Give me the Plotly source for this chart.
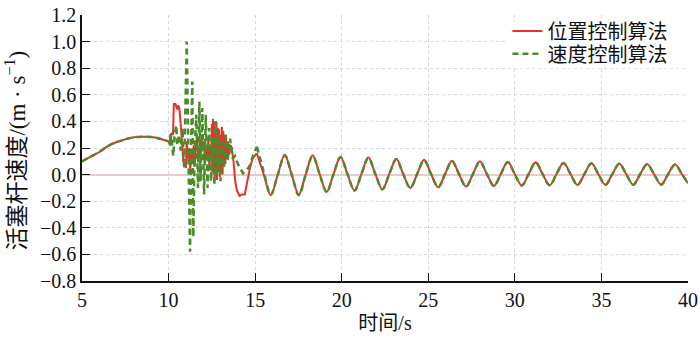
import plotly.graph_objects as go

# ---- data ----
start_t = [5.0, 5.5, 6.0, 6.5, 7.0, 7.5, 8.0, 8.5, 9.0, 9.5, 10.0]
start_v = [0.10, 0.135, 0.17, 0.215, 0.245, 0.265, 0.28, 0.285, 0.283, 0.27, 0.25]

red_chaos_t = [10.0, 10.08, 10.1, 10.2, 10.26, 10.3, 10.4, 10.45, 10.5, 10.55, 10.62, 10.7, 10.75, 10.8,
               10.85, 10.95, 11.0, 11.05, 11.1, 11.2, 11.25, 11.3, 11.4, 11.45, 11.5, 11.55, 11.65, 11.7,
               11.8, 11.85, 11.9, 12.0, 12.05, 12.1, 12.2, 12.25, 12.3, 12.35, 12.4, 12.45, 12.5, 12.53,
               12.56, 12.6, 12.63, 12.67, 12.7, 12.73, 12.77, 12.8, 12.84, 12.88, 12.92, 12.96, 13.0,
               13.04, 13.08, 13.12, 13.16, 13.2, 13.24, 13.28, 13.32, 13.36, 13.42, 13.5, 13.6, 13.65,
               13.75, 13.85, 13.95, 14.1, 14.25, 14.4, 14.55, 14.7, 14.85, 15.10]
red_chaos_v = [0.25, 0.24, 0.30, 0.31, 0.30, 0.53, 0.53, 0.50, 0.49, 0.52, 0.50, 0.38, 0.30, 0.22,
               0.10, 0.08, 0.05, 0.25, 0.12, 0.20, 0.02, 0.18, 0.10, 0.22, 0.06, 0.18, 0.28, 0.10,
               0.20, 0.12, 0.30, 0.18, 0.25, 0.08, 0.22, 0.14, 0.28, 0.06, 0.20, 0.10, 0.38, 0.02,
               0.42, 0.00, 0.40, -0.03, 0.36, 0.05, 0.40, -0.04, 0.35, 0.02, 0.34, -0.02, 0.30,
               0.05, 0.36, 0.00, 0.33, 0.06, 0.30, 0.08, 0.28, 0.12, 0.25, 0.15, 0.22, 0.20,
               0.10, -0.05, -0.12, -0.16, -0.15, -0.15, -0.05, 0.05, 0.12, 0.16]

green_chaos_t = [10.0, 10.1, 10.15, 10.2, 10.27, 10.35, 10.45, 10.5, 10.6, 10.7, 10.8, 10.9, 11.0, 11.05,
                 11.15, 11.24, 11.3, 11.37, 11.43, 11.5, 11.6, 11.7, 11.78, 11.85, 11.95, 12.05, 12.15,
                 12.25, 12.35, 12.45, 12.55, 12.65, 12.72, 12.8, 12.9, 13.0, 13.1, 13.2, 13.3, 13.4,
                 13.55, 13.7, 13.84, 14.0, 14.13, 14.3, 14.5, 14.7, 14.9, 15.10]
green_chaos_v = [0.25, 0.22, 0.30, 0.25, 0.14, 0.30, 0.37, 0.22, 0.30, 0.18, 0.35, 0.05, 0.60, 1.00,
                 0.10, -0.58, 0.20, 0.70, -0.47, 0.15, 0.45, -0.10, 0.55, -0.05, 0.50, -0.15, 0.45,
                 -0.10, 0.35, -0.05, 0.28, -0.08, 0.40, 0.00, 0.30, -0.05, 0.25, 0.05, 0.30, 0.10,
                 0.27, 0.12, 0.14, 0.08, 0.05, 0.01, 0.03, 0.07, 0.15, 0.21]

steady_t = [15.10, 15.50, 15.90, 16.31, 16.71, 17.11, 17.52, 17.92, 18.32, 18.72, 19.13, 19.53, 19.93,
            20.33, 20.74, 21.14, 21.54, 21.94, 22.35, 22.75, 23.15, 23.55, 23.96, 24.36, 24.76, 25.16,
            25.57, 25.97, 26.37, 26.77, 27.18, 27.58, 27.98, 28.38, 28.79, 29.19, 29.59, 29.99, 30.40,
            30.80, 31.20, 31.60, 32.01, 32.41, 32.81, 33.21, 33.62, 34.02, 34.42, 34.82, 35.23, 35.63,
            36.03, 36.43, 36.84, 37.24, 37.64, 38.04, 38.45, 38.85, 39.25, 39.65, 40.00]
red_steady_v = [0.16, 0.00, -0.155, 0.00, 0.15, 0.00, -0.15, 0.00, 0.145, 0.005, -0.13, 0.005, 0.135,
                0.005, -0.12, 0.005, 0.13, 0.005, -0.11, 0.005, 0.12, 0.005, -0.10, 0.005, 0.112, 0.005,
                -0.095, 0.005, 0.105, 0.005, -0.09, 0.005, 0.10, 0.005, -0.085, 0.005, 0.097, 0.005, -0.082,
                0.005, 0.092, 0.005, -0.08, 0.005, 0.089, 0.005, -0.078, 0.005, 0.086, 0.005, -0.077, 0.004,
                0.083, 0.004, -0.076, 0.004, 0.08, 0.003, -0.075, 0.003, 0.077, 0.003, -0.065]
green_steady_v = [0.21, 0.02, -0.15, 0.00, 0.145, 0.00, -0.155, 0.00, 0.14, 0.005, -0.13, 0.005, 0.13,
                  0.005, -0.12, 0.005, 0.125, 0.005, -0.11, 0.005, 0.115, 0.005, -0.10, 0.005, 0.108, 0.005,
                  -0.095, 0.005, 0.10, 0.005, -0.09, 0.005, 0.097, 0.005, -0.085, 0.005, 0.093, 0.005, -0.082,
                  0.005, 0.09, 0.005, -0.08, 0.005, 0.086, 0.005, -0.078, 0.005, 0.083, 0.005, -0.077, 0.004,
                  0.08, 0.004, -0.076, 0.004, 0.077, 0.003, -0.075, 0.003, 0.074, 0.003, -0.065]

names = ["位置控制算法", "速度控制算法"]
x_ticks = [5, 10, 15, 20, 25, 30, 35, 40]
y_ticks = [-0.8, -0.6, -0.4, -0.2, 0.0, 0.2, 0.4, 0.6, 0.8, 1.0, 1.2]
y_ticktext = ["−0.8", "−0.6", "−0.4", "−0.2", "0.0", "0.2", "0.4", "0.6", "0.8", "1.0", "1.2"]
x_title = "时间/s"
y_title = "活塞杆速度/(m · s<sup>−1</sup>)"

RED = "#e8312f"
GREEN = "#4b8c2a"
FONT = "Liberation Serif, Noto Sans CJK SC, serif"

fig = go.Figure()
red_smooth_t = start_t + [None] + steady_t
red_smooth_v = start_v + [None] + red_steady_v
green_smooth_t = start_t + [None] + steady_t
green_smooth_v = start_v + [None] + green_steady_v

fig.add_trace(go.Scatter(x=red_smooth_t, y=red_smooth_v, mode="lines", name=names[0],
                         line=dict(color=RED, width=2, shape="spline"), legendgroup="r",
                         connectgaps=False, legend="legend"))
fig.add_trace(go.Scatter(x=red_chaos_t, y=red_chaos_v, mode="lines", name=names[0],
                         line=dict(color=RED, width=2), legendgroup="r", showlegend=False,
                         legend="legend"))
fig.add_trace(go.Scatter(x=green_smooth_t, y=green_smooth_v, mode="lines", name=names[1],
                         line=dict(color=GREEN, width=2.5, shape="spline", dash="6px,4px"),
                         legendgroup="g", connectgaps=False, legend="legend2"))
fig.add_trace(go.Scatter(x=green_chaos_t, y=green_chaos_v, mode="lines", name=names[1],
                         line=dict(color=GREEN, width=2.5, dash="6px,4px"), legendgroup="g",
                         showlegend=False, legend="legend2"))

legend_common = dict(xanchor="left", yanchor="top", bgcolor="rgba(0,0,0,0)",
                     font=dict(size=20, family=FONT), itemwidth=30, borderwidth=0)

fig.update_layout(
    width=700, height=343,
    margin=dict(l=82, r=12, t=12, b=62),
    paper_bgcolor="white", plot_bgcolor="white",
    font=dict(family=FONT, size=20, color="#111"),
    legend=dict(x=0.702, y=1.013, **legend_common),
    legend2=dict(x=0.702, y=0.9275, **legend_common),
    xaxis=dict(range=[5, 40], tickvals=x_ticks, ticks="inside", ticklen=8, tickcolor="#111",
               showline=True, linecolor="#111", linewidth=1.5, mirror=False, automargin=False,
               showgrid=True, gridcolor="#d6d6d6", griddash="dot", gridwidth=1,
               zeroline=False, title=dict(text=x_title, font=dict(size=20), standoff=6)),
    yaxis=dict(range=[-0.8, 1.2], tickvals=y_ticks, ticktext=y_ticktext, ticks="inside", ticklen=8,
               tickcolor="#111", showline=True, linecolor="#111", linewidth=1.5, automargin=False,
               showgrid=True, gridcolor="#d6d6d6", griddash="dot", gridwidth=1,
               zeroline=True, zerolinecolor="#e6cccc", zerolinewidth=1.5),
    shapes=[dict(type="rect", xref="paper", yref="paper", x0=0.70, x1=0.998, y0=0.80, y1=0.975,
                 fillcolor="white", line=dict(width=0), layer="above")],
    annotations=[dict(text=y_title, xref="paper", yref="paper", x=-0.109, y=0.49,
                      xanchor="center", yanchor="middle", textangle=-90, showarrow=False,
                      font=dict(size=23, family=FONT, color="#111"))],
)

fig.write_html("out.html", config={"displayModeBar": False},
               post_script="document.body.style.margin='0';")
